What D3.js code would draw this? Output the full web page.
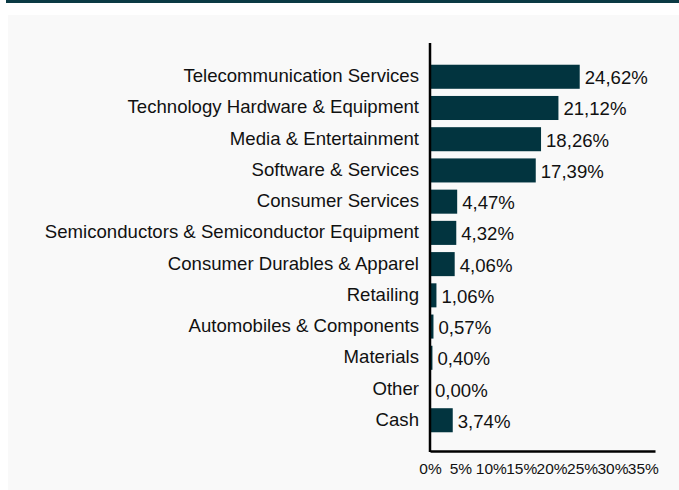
<!DOCTYPE html>
<html>
<head>
<meta charset="utf-8">
<script src="https://cdn.jsdelivr.net/npm/d3@7"></script>
<style>
  html, body { margin: 0; padding: 0; background: #ffffff; }
  svg { display: block; }
  text { font-family: "Liberation Sans", Arial, sans-serif; fill: #111; }
</style>
</head>
<body>
<svg id="chart" width="679" height="490"></svg>
<script>
const categories = [
  "Telecommunication Services",
  "Technology Hardware & Equipment",
  "Media & Entertainment",
  "Software & Services",
  "Consumer Services",
  "Semiconductors & Semiconductor Equipment",
  "Consumer Durables & Apparel",
  "Retailing",
  "Automobiles & Components",
  "Materials",
  "Other",
  "Cash"
];
const values = [24.62, 21.12, 18.26, 17.39, 4.47, 4.32, 4.06, 1.06, 0.57, 0.40, 0.00, 3.74];
const tickValues = [0, 5, 10, 15, 20, 25, 30, 35];

const svg = d3.select("#chart");

// top rule and panel
svg.append("rect").attr("x", 6).attr("y", 0).attr("width", 673).attr("height", 3).attr("fill", "#0b3a44");
svg.append("rect").attr("x", 8).attr("y", 15).attr("width", 671).attr("height", 475).attr("fill", "#f9f9f9");

const x = d3.scaleLinear().domain([0, 37]).range([430, 655]);
const y = d3.scaleBand().domain(categories).range([46, 451]).paddingInner(0.23).paddingOuter(0.6);

const fmt = v => v.toFixed(2).replace(".", ",") + "%";

// bars
svg.append("g").selectAll("rect").data(values).join("rect")
  .attr("x", x(0))
  .attr("y", (d, i) => y(categories[i]))
  .attr("width", d => x(d) - x(0))
  .attr("height", y.bandwidth())
  .attr("fill", "#02343f");

// value labels
svg.append("g").selectAll("text").data(values).join("text")
  .attr("x", d => x(d) + 5)
  .attr("y", (d, i) => y(categories[i]) + y.bandwidth() / 2 + 1)
  .attr("dy", "0.35em")
  .attr("font-size", 18.6)
  .text(d => fmt(d));

// category labels
svg.append("g").selectAll("text").data(categories).join("text")
  .attr("x", 419)
  .attr("y", d => y(d) + y.bandwidth() / 2 - 1)
  .attr("dy", "0.35em")
  .attr("text-anchor", "end")
  .attr("font-size", 18.6)
  .text(d => d);

// x axis
const xAxis = d3.axisBottom(x).tickValues(tickValues).tickSize(0).tickPadding(12).tickFormat(d => d + "%");
const gx = svg.append("g").attr("transform", "translate(0,451)").call(xAxis);
gx.select(".domain").attr("stroke", "#000").attr("stroke-width", 2.5);
gx.selectAll("text").attr("font-size", 15.5).attr("font-family", "Liberation Sans, Arial, sans-serif").attr("fill", "#111");

// y axis line
svg.append("line").attr("x1", 430).attr("x2", 430).attr("y1", 43).attr("y2", 452)
  .attr("stroke", "#000").attr("stroke-width", 2.5);
</script>
</body>
</html>
